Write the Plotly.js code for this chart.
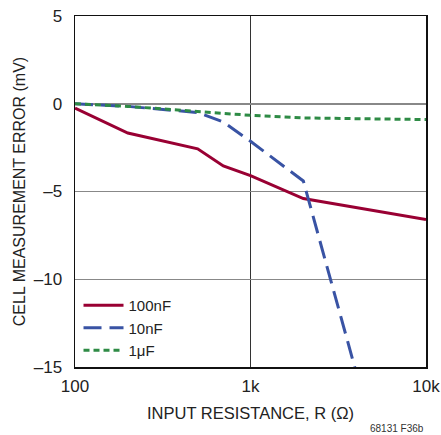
<!DOCTYPE html>
<html><head><meta charset="utf-8">
<script src="https://cdn.plot.ly/plotly-3.0.1.min.js"></script>
<style>html,body{margin:0;padding:0;background:#fff}#chart{width:441px;height:435px}</style>
</head><body><div id="chart"></div>
<script>
const r100n = [100, 200, 500, 700, 1000, 2000, 10000];
const e100n = [-0.25, -1.67, -2.57, -3.54, -4.1, -5.4, -6.6];
const r10n = [100, 200, 500, 700, 1000, 2000, 4000];
const e10n = [0, -0.15, -0.5, -1.04, -2.14, -4.4, -15.3];
const r1u = [100, 200, 500, 1000, 2000, 10000];
const e1u = [0, -0.15, -0.44, -0.66, -0.81, -0.9];
const seriesNames = ['100nF', '10nF', '1μF'];
const xTickVals = [100, 1000, 10000];
const xTickText = ['100', '1k', '10k'];
const yTickVals = [5, 0, -5, -10, -15];
const yTickText = ['5', '0', '–5', '–10', '–15'];

const FONT = '"Liberation Sans", Arial, sans-serif';
const traces = [
  {x: r100n, y: e100n, name: seriesNames[0], mode: 'lines', line: {color: '#990033', width: 3}},
  {x: r10n, y: e10n, name: seriesNames[1], mode: 'lines', line: {color: '#3953a4', width: 3, dash: '18px,8px'}},
  {x: r1u, y: e1u, name: seriesNames[2], mode: 'lines', line: {color: '#2e8b45', width: 3, dash: '6px,4px'}}
];
const layout = {
  width: 441, height: 435,
  margin: {l: 74.5, r: 15, t: 15.5, b: 68},
  paper_bgcolor: '#fff', plot_bgcolor: '#fff',
  font: {family: FONT, size: 17, color: '#222'},
  showlegend: true,
  legend: {x: 0.01, y: 0, xanchor: 'left', yanchor: 'bottom', bgcolor: 'rgba(0,0,0,0)', font: {size: 15, family: FONT}, tracegroupgap: 0, itemwidth: 40},
  xaxis: {type: 'log', range: [2, 4], tickvals: xTickVals, ticktext: xTickText, ticks: '', ticklabelstandoff: 3, showgrid: true, gridcolor: '#333', gridwidth: 1, showline: true, linecolor: '#111', linewidth: 1.5, mirror: true, zeroline: false,
    title: {text: 'INPUT RESISTANCE, R (Ω)', font: {size: 16.5, family: FONT}, standoff: 12}, tickfont: {size: 17, family: FONT}},
  yaxis: {range: [-15, 5], tickvals: yTickVals, ticktext: yTickText, ticks: '', ticklabelstandoff: 8, showgrid: true, gridcolor: '#888', gridwidth: 1.5, showline: true, linecolor: '#111', linewidth: 1.5, mirror: true, zeroline: false,
    title: {text: 'CELL MEASUREMENT ERROR (mV)', font: {size: 16, family: FONT}, standoff: 4}, tickfont: {size: 17, family: FONT}},
  annotations: [{text: '68131 F36b', xref: 'paper', yref: 'paper', x: 1, y: -0.176, xanchor: 'right', yanchor: 'middle', showarrow: false, font: {size: 10, family: FONT, color: '#333'}}]
};
Plotly.newPlot('chart', traces, layout, {displayModeBar: false, staticPlot: true});
</script></body></html>
